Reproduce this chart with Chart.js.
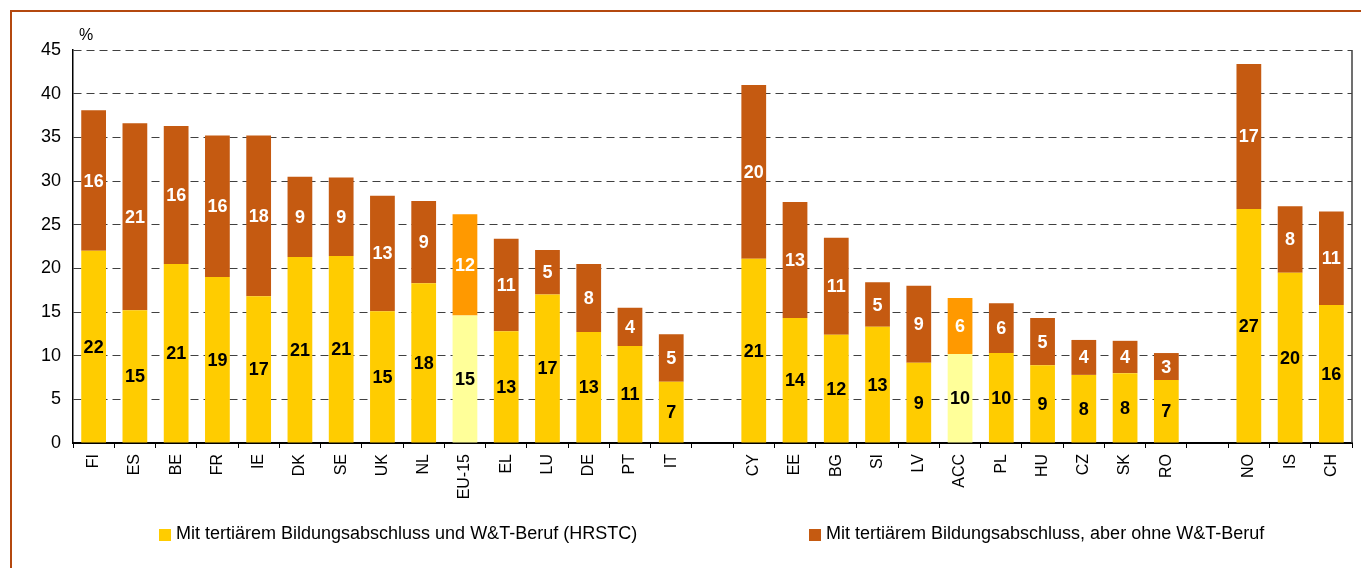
<!DOCTYPE html>
<html>
<head>
<meta charset="utf-8">
<script src="https://cdn.jsdelivr.net/npm/chart.js@4.4.1/dist/chart.umd.min.js"></script>
<style>
  html, body { margin: 0; padding: 0; background: #fff; }
  #wrap { position: relative; width: 1361px; height: 568px; }
  #frame { position: absolute; left: 10px; top: 10px; right: 0; bottom: 0;
           border-left: 2px solid #b4480f; border-top: 2px solid #b4480f; }
  #hrstChart { position: absolute; left: 0; top: 0; }
</style>
</head>
<body>
<div id="wrap">
  <div id="frame"></div>
  <canvas id="hrstChart" width="1361" height="568"></canvas>
</div>
<script>
// empty strings are the gaps between country groups
const countries = ['FI', 'ES', 'BE', 'FR', 'IE', 'DK', 'SE', 'UK', 'NL', 'EU-15', 'EL', 'LU', 'DE', 'PT', 'IT', '',
    'CY', 'EE', 'BG', 'SI', 'LV', 'ACC', 'PL', 'HU', 'CZ', 'SK', 'RO', '',
    'NO', 'IS', 'CH'];
const withStJob = [22.0, 15.2, 20.5, 19.0, 16.8, 21.3, 21.4, 15.1, 18.3, 14.6, 12.8, 17.0, 12.7, 11.1, 7.0, null,
    21.1, 14.3, 12.4, 13.3, 9.2, 10.2, 10.3, 8.9, 7.8, 8.0, 7.2, null,
    26.8, 19.5, 15.8];
const withoutStJob = [16.1, 21.4, 15.8, 16.2, 18.4, 9.2, 9.0, 13.2, 9.4, 11.6, 10.6, 5.1, 7.8, 4.4, 5.45, null,
    19.9, 13.3, 11.1, 5.1, 8.8, 6.4, 5.7, 5.4, 4.0, 3.7, 3.1, null,
    16.6, 7.6, 10.7];
const aggregates = ['EU-15', 'ACC'];
const yTicks = [0, 5, 10, 15, 20, 25, 30, 35, 40, 45];

const seriesNames = ['Mit tertiärem Bildungsabschluss und W&T-Beruf (HRSTC)',
    'Mit tertiärem Bildungsabschluss, aber ohne W&T-Beruf'];
const baseColors = ['#ffcc00', '#c55a11'];
const aggColors = ['#ffff99', '#ff9900'];
const labelColors = ['#000000', '#ffffff'];
const font = '"Liberation Sans", Arial, sans-serif';

function colorsFor(i) {
    return countries.map(c => aggregates.includes(c) ? aggColors[i] : baseColors[i]);
}

const barLabels = {
    id: 'barLabels',
    afterDatasetsDraw(chart) {
        const c = chart.ctx;
        c.save();
        c.font = 'bold 18px ' + font;
        c.textAlign = 'center';
        c.textBaseline = 'middle';
        chart.data.datasets.forEach((ds, i) => {
            chart.getDatasetMeta(i).data.forEach((bar, j) => {
                const v = ds.data[j];
                if (v == null) return;
                const p = bar.getProps(['x', 'y', 'base'], true);
                c.fillStyle = labelColors[i];
                c.fillText(String(Math.round(v)), p.x, (p.y + p.base) / 2 + 1);
            });
        });
        c.restore();
    }
};

// percent sign, right plot edge and the bottom legend
const extras = {
    id: 'extras',
    afterDraw(chart) {
        const c = chart.ctx;
        const a = chart.chartArea;
        c.save();
        c.fillStyle = '#000';
        c.font = '16px ' + font;
        c.textBaseline = 'middle';
        c.fillText('%', a.left + 6, a.top - 14);

        c.strokeStyle = '#404040';
        c.lineWidth = 1.5;
        c.beginPath();
        c.moveTo(a.right, a.top);
        c.lineTo(a.right, a.bottom);
        c.stroke();

        const legendX = [159, 809];
        const y = 534;
        c.font = '18px ' + font;
        chart.data.datasets.forEach((ds, i) => {
            c.fillStyle = baseColors[i];
            c.fillRect(legendX[i], y - 5, 12, 12);
            c.fillStyle = '#000';
            c.fillText(ds.label, legendX[i] + 17, y);
        });
        c.restore();
    }
};

new Chart(document.getElementById('hrstChart'), {
    type: 'bar',
    data: {
        labels: countries,
        datasets: [{
            label: seriesNames[0],
            data: withStJob,
            backgroundColor: colorsFor(0),
            barPercentage: 0.6,
            categoryPercentage: 1
        }, {
            label: seriesNames[1],
            data: withoutStJob,
            backgroundColor: colorsFor(1),
            barPercentage: 0.6,
            categoryPercentage: 1
        }]
    },
    options: {
        responsive: false,
        animation: false,
        layout: { padding: { left: 23, right: 9, top: 50, bottom: 45 } },
        plugins: {
            legend: { display: false },
            tooltip: { enabled: false }
        },
        scales: {
            x: {
                stacked: true,
                afterFit: s => { s.height = 80; },
                grid: { drawOnChartArea: false, drawTicks: true, tickLength: 5, color: '#000', offset: true },
                border: { color: '#000', width: 2 },
                ticks: {
                    color: '#000', font: { family: font, size: 16 },
                    minRotation: 90, maxRotation: 90, padding: 6, autoSkip: false
                }
            },
            y: {
                stacked: true,
                min: 0, max: 45,
                afterFit: s => { s.width = 50; },
                afterBuildTicks: s => { s.ticks = yTicks.map(v => ({ value: v })); },
                grid: { color: '#404040', drawTicks: false },
                border: { color: '#000', width: 1.5, dash: [8, 5] },
                ticks: { color: '#000', font: { family: font, size: 18 }, padding: 12 }
            }
        }
    },
    plugins: [barLabels, extras]
});
</script>
</body>
</html>
